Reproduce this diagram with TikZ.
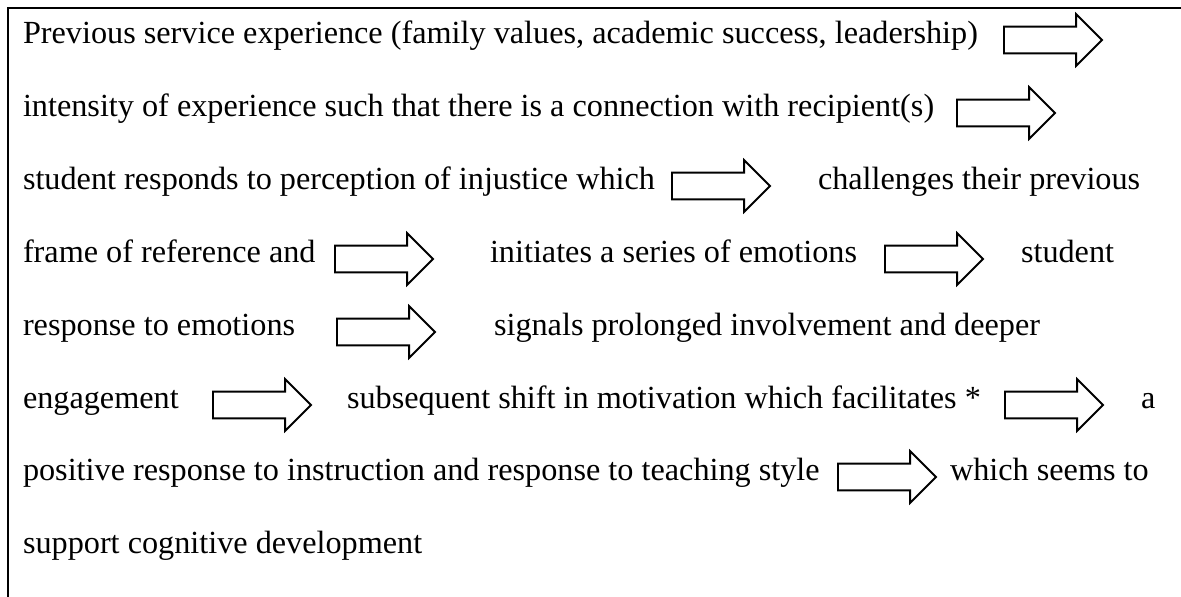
\documentclass[tikz,border=0pt]{standalone}
\usepackage{fontspec}
\setmainfont{Liberation Serif}
\usetikzlibrary{shapes.arrows, positioning}

\begin{document}
\begin{tikzpicture}[
        x=0.3692pt, y=-0.3692pt,
        phrase/.style={anchor=base west, inner sep=0pt, outer sep=0pt, font=\fontsize{11.9}{14}\selectfont},
        blockarrow/.style={draw, single arrow, anchor=tail, inner xsep=0pt, inner ysep=4.6pt, outer sep=0pt, line width=0.7pt,
            minimum height=36.2pt, single arrow head extend=4.6pt}
    ]
        \useasboundingbox (0,0) rectangle (1181,597);

        % Frame (top and left edge)
        \draw [line width=1.1pt] (8,597) -- (8,8) -- (1181,8);

        % Service experience
        \node (prev) [phrase] at (23,43) {Previous service experience (family values, academic success, leadership)};
        \node (prevarr) [blockarrow] at (1004,40) {};

        % Intensity
        \node (intens) [phrase] at (23,116) {intensity of experience such that there is a connection with recipient(s)};
        \node (intensarr) [blockarrow] at (957,113) {};

        % Injustice
        \node (injust) [phrase] at (23,189) {student responds to perception of injustice which};
        \node (injustarr) [blockarrow] at (672,186) {};
        \node (challenge) [phrase] at (818,189) {challenges their previous};

        % Frame of reference
        \node (frame) [phrase] at (23,262) {frame of reference and};
        \node (framearr) [blockarrow] at (335,259) {};
        \node (emot) [phrase] at (490,262) {initiates a series of emotions};
        \node (emotarr) [blockarrow] at (885,259) {};
        \node (student) [phrase] at (1021,262) {student};

        % Response
        \node (resp) [phrase] at (23,335) {response to emotions};
        \node (resparr) [blockarrow] at (337,332) {};
        \node (signal) [phrase] at (494,335) {signals prolonged involvement and deeper};

        % Engagement
        \node (engage) [phrase] at (23,408) {engagement};
        \node (engagearr) [blockarrow] at (213,405) {};
        \node (shift) [phrase] at (347,408) {subsequent shift in motivation which facilitates *};
        \node (shiftarr) [blockarrow] at (1005,405) {};
        \node (art) [phrase] at (1141,408) {a};

        % Instruction
        \node (instr) [phrase] at (23,480) {positive response to instruction and response to teaching style};
        \node (instrarr) [blockarrow] at (838,477) {};
        \node (seems) [phrase] at (950,480) {which seems to};

        % Cognitive development
        \node (cogn) [phrase] at (23,553) {support cognitive development};
    \end{tikzpicture}
\end{document}
